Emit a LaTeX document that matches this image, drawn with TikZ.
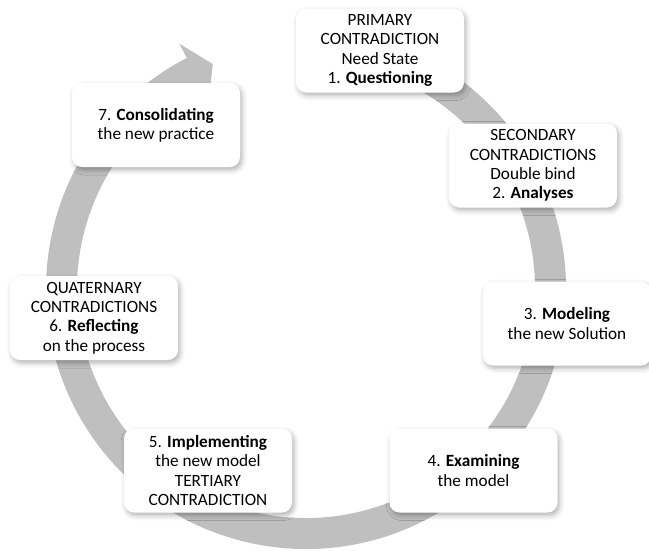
\documentclass[tikz,border=0pt]{standalone}
\usepackage{fontspec}
\setmainfont{Carlito}
\usepackage{tikz}
\usetikzlibrary{shadows.blur}
\tikzset{
    x=1pt,
    y=-1pt,
    block/.style = {
        fill=white,
        shape=rectangle,
        rounded corners=10pt,
        minimum height=84pt,
        minimum width=168pt,
        inner sep=0pt,
        align=center,
        font=\fontsize{17.2}{19.2}\selectfont,
        blur shadow={shadow xshift=2pt, shadow yshift=-3pt, shadow blur radius=5pt, shadow opacity=30}
    },
    ring/.style = {
        fill=black!25
    },
}

\begin{document}
\begin{tikzpicture}
    \useasboundingbox (0,0) rectangle (649,550);
    \coordinate (mid) at (306,289);

    % circular arrow
    \fill[ring, shift={(mid)}] (-80:260) arc[start angle=-80, end angle=242.7, radius=260]
        -- (242.7:276) -- (247.5:243.5) -- (242.7:212) -- (242.7:229)
        arc[start angle=242.7, end angle=-80, radius=229] -- cycle;

    \node[block] (questioning) at (380,50.5) {PRIMARY\\CONTRADICTION\\Need State\\1. \textbf{Questioning}};
    \node[block] (analyses) at (533,165.5) {SECONDARY\\CONTRADICTIONS\\Double bind\\2. \textbf{Analyses}};
    \node[block] (modeling) at (567,323.5) {3. \textbf{Modeling}\\the new Solution};
    \node[block] (examining) at (473.5,470.5) {4. \textbf{Examining}\\the model};
    \node[block] (implementing) at (208,470.5) {5. \textbf{Implementing}\\the new model\\TERTIARY\\CONTRADICTION};
    \node[block] (reflecting) at (94,318) {QUATERNARY\\CONTRADICTIONS\\6. \textbf{Reflecting}\\on the process};
    \node[block] (consolidating) at (156,125) {7. \textbf{Consolidating}\\the new practice};
\end{tikzpicture}
\end{document}
